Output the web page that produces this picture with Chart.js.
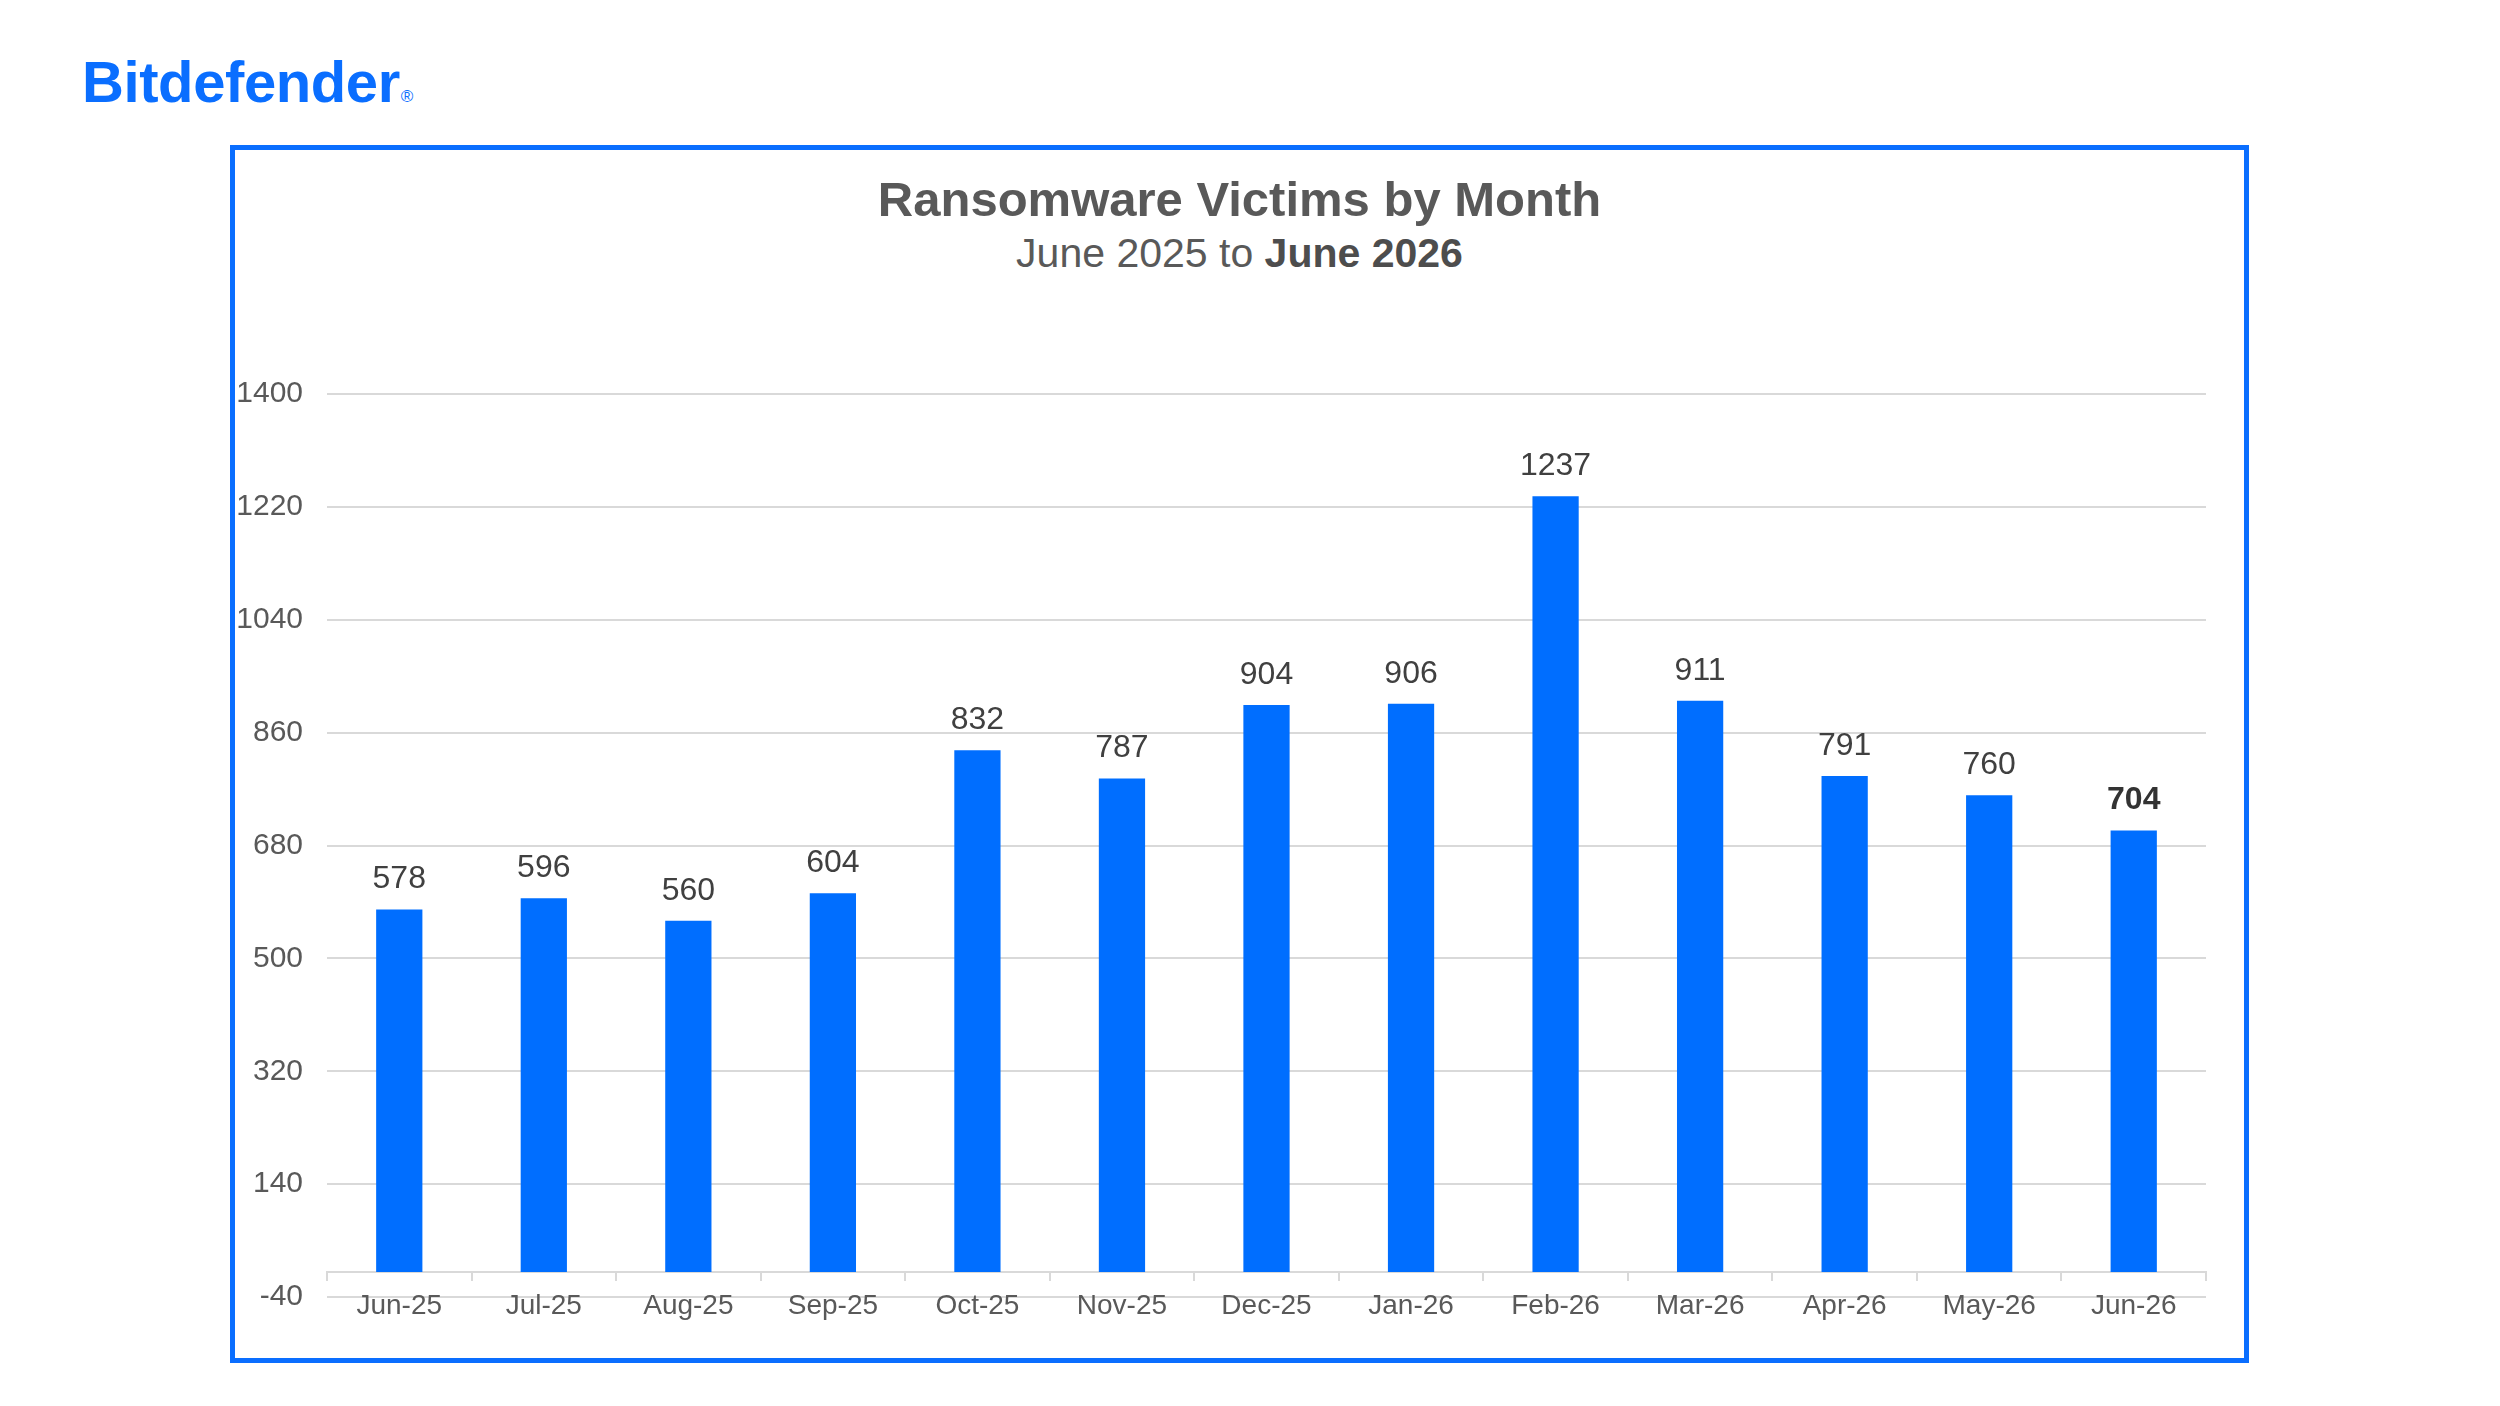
<!DOCTYPE html>
<html>
<head>
<meta charset="utf-8">
<title>Ransomware Victims by Month</title>
<script src="https://cdn.jsdelivr.net/npm/chart.js@4.4.1/dist/chart.umd.min.js"></script>
<style>
  html, body { margin: 0; padding: 0; background: #fff; overflow: hidden; }
  body { width: 2500px; height: 1406px; position: relative; font-family: "Liberation Sans", Arial, sans-serif; }
  #logo {
    position: absolute; left: 82px; top: 53px;
    font-size: 58px; line-height: 1; font-weight: bold; letter-spacing: -0.4px;
    color: #0a6eff; white-space: nowrap;
  }
  #logo span { font-size: 17px; font-weight: normal; letter-spacing: 0; margin-left: 1px; }
  #frame {
    position: absolute; left: 230px; top: 145px; width: 2019px; height: 1218px;
    border: 5px solid #0a6eff; box-sizing: border-box;
  }
  .head { position: absolute; left: 230px; width: 2019px; text-align: center; color: #595959; line-height: 1; white-space: nowrap; }
  #title { top: 175px; font-size: 49px; font-weight: bold; }
  #subtitle { top: 233px; font-size: 41px; }
  #subtitle b { color: #4d4d4d; }
  #chart { position: absolute; left: 0; top: 0; }
</style>
</head>
<body>
<div id="logo">Bitdefender<span>®</span></div>
<div id="frame"></div>
<div id="title" class="head">Ransomware Victims by Month</div>
<div id="subtitle" class="head">June 2025 to <b>June 2026</b></div>
<canvas id="chart" width="2500" height="1406"></canvas>
<script>
// chart data
const months = ['Jun-25', 'Jul-25', 'Aug-25', 'Sep-25', 'Oct-25', 'Nov-25', 'Dec-25',
                'Jan-26', 'Feb-26', 'Mar-26', 'Apr-26', 'May-26', 'Jun-26'];
const victims = [578, 596, 560, 604, 832, 787, 904, 906, 1237, 911, 791, 760, 704];
const yTicks = [-40, 140, 320, 500, 680, 860, 1040, 1220, 1400];

const BLUE = '#006eff';
const GRID = '#d9d9d9';
const TEXT = '#595959';

// value labels on top of the bars, the latest month in bold
const valueLabels = {
    id: 'valueLabels',
    afterDatasetsDraw(chart) {
        const ctx = chart.ctx;
        const meta = chart.getDatasetMeta(0);
        const last = victims.length - 1;
        ctx.save();
        ctx.textAlign = 'center';
        ctx.textBaseline = 'alphabetic';
        meta.data.forEach((bar, i) => {
            const bold = i === last;
            ctx.font = (bold ? 'bold ' : '') + '32px "Liberation Sans", Arial, sans-serif';
            ctx.fillStyle = bold ? '#333333' : '#404040';
            ctx.fillText(String(victims[i]), bar.x, bar.y - 21);
        });
        ctx.restore();
    }
};

const ctx = document.getElementById('chart');
new Chart(ctx, {
    type: 'bar',
    data: {
        labels: months,
        datasets: [{
            label: 'Victims',
            data: victims,
            backgroundColor: BLUE,
            borderWidth: 0,
            barPercentage: 0.32,
            categoryPercentage: 1.0
        }]
    },
    options: {
        responsive: false,
        animation: false,
        devicePixelRatio: 1,
        layout: { padding: { top: 394, right: 294, bottom: 109, left: 0 } },
        plugins: {
            legend: { display: false },
            tooltip: { enabled: false },
            title: { display: false }
        },
        scales: {
            x: {
                position: { y: 0 },
                afterFit: (scale) => { scale.height = 0; },
                grid: {
                    display: true,
                    drawOnChartArea: false,
                    drawTicks: true,
                    tickLength: 8,
                    color: GRID,
                    lineWidth: 2,
                    offset: true
                },
                border: { display: true, color: GRID, width: 2 },
                ticks: {
                    color: TEXT,
                    padding: 10,
                    maxRotation: 0,
                    font: { family: '"Liberation Sans", Arial, sans-serif', size: 28 }
                }
            },
            y: {
                min: -40,
                max: 1400,
                afterFit: (scale) => { scale.width = 327; },
                afterBuildTicks: (axis) => { axis.ticks = yTicks.map(v => ({ value: v })); },
                grid: { color: GRID, lineWidth: 2, drawTicks: false },
                border: { display: false },
                ticks: {
                    color: TEXT,
                    padding: 24,
                    callback: (v) => String(v),
                    font: { family: '"Liberation Sans", Arial, sans-serif', size: 30 }
                }
            }
        }
    },
    plugins: [valueLabels]
});
</script>
</body>
</html>
